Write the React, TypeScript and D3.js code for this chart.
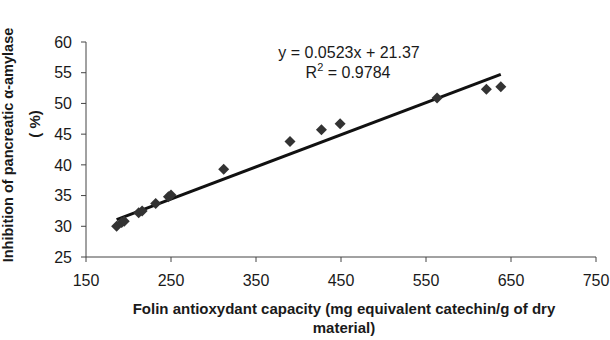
import React from "react";
import * as d3 from "d3";

const capacity = [186, 192, 195, 212, 216, 232, 247, 250, 312, 390, 427, 449, 563, 621, 638];
const inhibition = [30.0, 30.6, 30.8, 32.2, 32.5, 33.7, 34.8, 35.1, 39.3, 43.8, 45.7, 46.7, 50.9, 52.3, 52.7];
const xTicks = [150, 250, 350, 450, 550, 650, 750];
const yTicks = [25, 30, 35, 40, 45, 50, 55, 60];
const slope = 0.0523;
const intercept = 21.37;
const equationText = "y = 0.0523x + 21.37";
const r2Text = "0.9784";
const xTitle1 = "Folin antioxydant capacity (mg equivalent catechin/g of dry";
const xTitle2 = "material)";
const yTitle1 = "Inhibition of pancreatic α-amylase";
const yTitle2 = "( %)";

const W = 610;
const H = 340;
const FONT = "'Liberation Sans', Arial, sans-serif";

export default function App() {
  const x = d3.scaleLinear().domain([150, 750]).range([86, 596]);
  const y = d3.scaleLinear().domain([25, 60]).range([257, 42]);
  const pts = capacity.map((c, i) => [c, inhibition[i]] as [number, number]);
  const xmin = d3.min(capacity) as number;
  const xmax = d3.max(capacity) as number;
  const line = d3
    .line<number>()
    .x((d) => x(d))
    .y((d) => y(slope * d + intercept));
  const diamond = "M0,-5.5L5.5,0L0,5.5L-5.5,0Z";
  const axisColor = "#444";
  const textColor = "#1a1a1a";

  return (
    <svg
      width={W}
      height={H}
      style={{ position: "absolute", left: 0, top: 0, background: "#fff" }}
      fontFamily={FONT}
    >
      <rect width={W} height={H} fill="#fff" />
      {/* axes */}
      <line x1={x(150)} x2={x(750)} y1={y(25)} y2={y(25)} stroke={axisColor} strokeWidth={1} />
      <line x1={x(150)} x2={x(150)} y1={y(25)} y2={y(60)} stroke={axisColor} strokeWidth={1} />
      {xTicks.map((t) => (
        <g key={"xt" + t}>
          <line x1={x(t)} x2={x(t)} y1={y(25)} y2={y(25) + 5} stroke={axisColor} />
          <text x={x(t)} y={286} textAnchor="middle" fontSize={16} fill={textColor}>
            {t}
          </text>
        </g>
      ))}
      {yTicks.map((t) => (
        <g key={"yt" + t}>
          <line x1={x(150) - 5} x2={x(150)} y1={y(t)} y2={y(t)} stroke={axisColor} />
          <text x={72} y={y(t)} dy="0.36em" textAnchor="end" fontSize={16} fill={textColor}>
            {t}
          </text>
        </g>
      ))}
      {/* trend line */}
      <path d={line([xmin, xmax]) || ""} fill="none" stroke="#111" strokeWidth={3} />
      {/* points */}
      {pts.map((p, i) => (
        <path key={i} d={diamond} transform={`translate(${x(p[0])},${y(p[1])})`} fill="#333" />
      ))}
      {/* equation */}
      <text x={349} y={57.5} textAnchor="middle" fontSize={16} fill={textColor}>
        {equationText}
      </text>
      <text x={348} y={78} textAnchor="middle" fontSize={16} fill={textColor}>
        R<tspan fontSize={11} dy={-7}>2</tspan>
        <tspan dy={7}>{" = " + r2Text}</tspan>
      </text>
      {/* x title */}
      <text x={344} y={314} textAnchor="middle" fontSize={15} fontWeight="bold" fill={textColor}>
        {xTitle1}
      </text>
      <text x={344} y={333} textAnchor="middle" fontSize={15} fontWeight="bold" fill={textColor}>
        {xTitle2}
      </text>
      {/* y title */}
      <text
        transform={`translate(13,145) rotate(-90)`}
        textAnchor="middle"
        fontSize={14.5}
        fontWeight="bold"
        fill={textColor}
      >
        {yTitle1}
      </text>
      <text
        transform={`translate(40,124) rotate(-90)`}
        textAnchor="middle"
        fontSize={15}
        fontWeight="bold"
        fill={textColor}
      >
        {yTitle2}
      </text>
    </svg>
  );
}
